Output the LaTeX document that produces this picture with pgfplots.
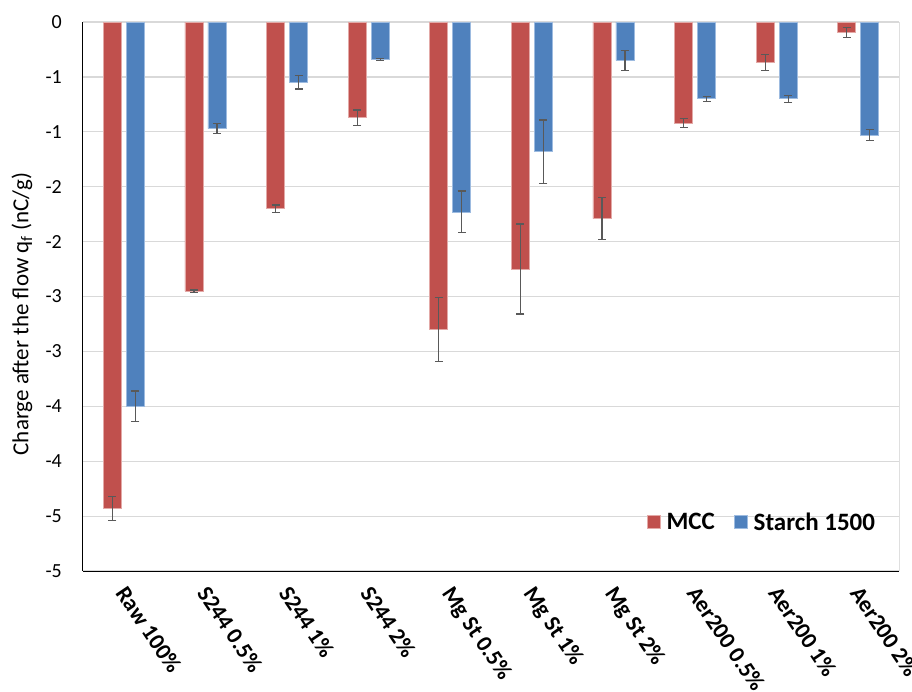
\documentclass[border=0pt]{standalone}
\usepackage{fontspec}
\setmainfont{Carlito}
\usepackage{pgfplots}
\usepackage{pgfplotstable}
\pgfplotsset{compat=1.18}
\definecolor{mccColor}{HTML}{C0504D}
\definecolor{mccEdge}{HTML}{E3A9A7}
\definecolor{starchColor}{HTML}{4F81BD}
\definecolor{starchEdge}{HTML}{9DBBE0}
\definecolor{errColor}{HTML}{595959}
\definecolor{gridColor}{HTML}{D9D9D9}

% charge after the flow, nC/g (mean and error)
\pgfplotstableread{
x mcc   mccerr starch starcherr
0 -4.43 0.11   -3.50  0.14
1 -2.45 0.01   -0.97  0.046
2 -1.70 0.034  -0.55  0.061
3 -0.87 0.069  -0.34  0.008
4 -2.80 0.29   -1.73  0.19
5 -2.25 0.41   -1.18  0.288
6 -1.79 0.19   -0.35  0.09
7 -0.92 0.04   -0.70  0.023
8 -0.37 0.073  -0.70  0.03
9 -0.094 0.044 -1.03  0.049
}\chargedata

\begin{document}
\begin{tikzpicture}
\useasboundingbox (-83pt,-120pt) rectangle (829pt,571pt);
\begin{axis}[
    scale only axis,
    width=816pt,
    height=549pt,
    ybar=5pt,
    bar width=18pt,
    xmin=-0.5, xmax=9.5,
    ymin=-5, ymax=0,
    axis lines*=left,
    axis line style={-, black, line width=1pt},
    xtick={0,...,9},
    xticklabels={Raw 100\%, S244 0.5\%, S244 1\%, S244 2\%, Mg St 0.5\%, Mg St 1\%, Mg St 2\%, Aer200 0.5\%, Aer200 1\%, Aer200 2\%},
    ytick={-5,-4.5,-4,-3.5,-3,-2.5,-2,-1.5,-1,-0.5,0},
    yticklabels={-5,-5,-4,-4,-3,-3,-2,-2,-1,-1,0},
    major tick length=0pt,
    ymajorgrids=true,
    major grid style={gridColor, line width=1.2pt},
    yticklabel style={font=\fontsize{20}{24}\selectfont, inner sep=0pt, xshift=-21pt},
    xticklabel style={font=\fontsize{23}{28}\selectfont\bfseries, xshift=-4.5pt, yshift=-19pt,
        rotate=-56, anchor=west, inner sep=0pt, text height=15pt, text depth=4pt},
    ylabel={Charge after the flow q\textsubscript{f} (nC/g)},
    ylabel style={font=\fontsize{23}{28}\selectfont, at={(rel axis cs:-0.0748,0.468)}, anchor=center},
    legend style={at={(0.977,0.089)}, anchor=east, draw=none, fill=none,
        legend columns=-1, font=\fontsize{25}{30}\selectfont\bfseries,
        /tikz/every even column/.append style={column sep=17pt}},
    legend image code/.code={\draw[#1] (0pt,-6pt) rectangle (13pt,7pt); \path (17pt,0pt);},
]
\addplot[fill=mccColor, draw=mccEdge, line width=0.8pt,
    error bars/.cd, y dir=both, y explicit,
    error bar style={errColor, line width=1.2pt},
    error mark options={errColor, rotate=90, mark size=4pt, line width=1.2pt}]
    table[x=x, y=mcc, y error=mccerr] {\chargedata};
\addplot[fill=starchColor, draw=starchEdge, line width=0.8pt,
    error bars/.cd, y dir=both, y explicit,
    error bar style={errColor, line width=1.2pt},
    error mark options={errColor, rotate=90, mark size=4pt, line width=1.2pt}]
    table[x=x, y=starch, y error=starcherr] {\chargedata};
\draw[black, line width=1pt] (rel axis cs:1,0) -- (rel axis cs:1,1);
\legend{MCC, Starch 1500}
\end{axis}
\end{tikzpicture}
\end{document}
